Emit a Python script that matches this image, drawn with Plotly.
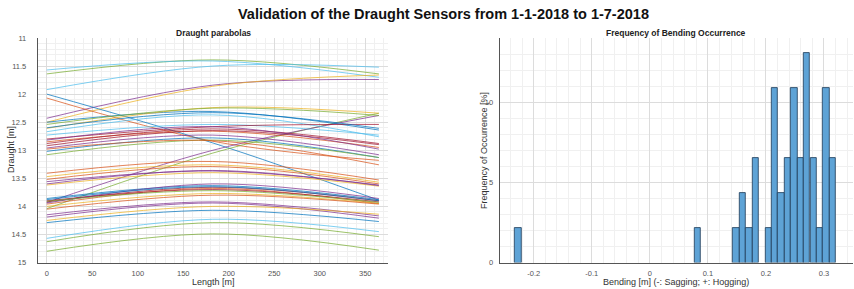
import plotly.graph_objects as go

# ---------------- data ----------------
length_stations = [0, 182.5, 365]  # aft, midship, fwd [m]

draught_aft = [11.64, 11.57, 11.92, 12.43, 12.50, 12.00, 12.07, 14.04, 13.93,
               12.50, 12.61, 12.54, 12.73, 12.67, 12.80, 12.60, 12.85,
               12.88, 12.92, 12.96, 13.02, 13.08, 12.82, 12.98,
               13.41, 13.47, 13.56, 13.62, 13.52, 13.60,
               13.86, 13.92, 13.96, 13.90, 14.00, 14.05, 13.94, 13.88, 13.91,
               14.15, 14.19, 14.29, 14.57, 14.63, 14.80, 14.25]
draught_mid = [11.39, 11.41, 11.50, 11.84, 11.86, 12.87, 12.84, 13.05, 13.00,
               12.31, 12.24, 12.25, 12.54, 12.37, 12.58, 12.33, 12.66,
               12.62, 12.65, 12.73, 12.78, 12.82, 12.58, 12.83,
               13.20, 13.26, 13.37, 13.40, 13.29, 13.36,
               13.63, 13.66, 13.68, 13.70, 13.77, 13.80, 13.60, 13.65, 13.72,
               13.92, 13.94, 14.07, 14.23, 14.29, 14.49, 14.00]
draught_fwd = [11.64, 11.70, 11.52, 11.74, 11.66, 13.89, 13.18, 12.34, 12.38,
               12.64, 12.34, 12.38, 12.73, 12.76, 12.54, 12.61, 12.95,
               12.88, 12.90, 13.08, 13.13, 13.13, 12.98, 13.26,
               13.53, 13.57, 13.62, 13.64, 13.60, 13.63,
               13.88, 13.90, 13.95, 13.92, 13.95, 13.96, 13.86, 13.90, 13.93,
               14.17, 14.21, 14.27, 14.45, 14.54, 14.78, 14.14]

bending_bin_centers = [-0.2270, 0.0827, 0.1491, 0.1601, 0.1712, 0.1823,
                       0.2044, 0.2154, 0.2265, 0.2376, 0.2486, 0.2597,
                       0.2707, 0.2818, 0.2929, 0.3039, 0.3150]
occurrence_pct = [2.17, 2.17, 2.17, 4.35, 2.17, 6.52,
                  2.17, 10.87, 4.35, 6.52, 10.87, 6.52,
                  13.04, 6.52, 2.17, 10.87, 6.52]

# ---------------- styles ----------------
matlab = {"B": "#0072BD", "O": "#D95319", "Y": "#EDB120", "P": "#7E2F8E",
          "G": "#77AC30", "C": "#4DBEEE", "R": "#A2142F"}
line_color_keys = ["G", "C", "C", "P", "Y", "B", "O", "G", "P",
                   "B", "Y", "G", "C", "C", "R", "B", "O",
                   "R", "R", "P", "B", "G", "P", "O",
                   "O", "Y", "P", "Y", "O", "P",
                   "B", "R", "O", "R", "Y", "O", "P", "B", "G",
                   "P", "P", "B", "C", "G", "G", "Y"]

FONT = "Liberation Sans, Arial, Helvetica, sans-serif"
W, H = 854, 289

fig = go.Figure()

for i in range(len(draught_aft)):
    fig.add_trace(go.Scatter(
        x=length_stations,
        y=[draught_aft[i], draught_mid[i], draught_fwd[i]],
        mode="lines",
        line=dict(color=matlab[line_color_keys[i]], width=0.8, shape="spline"),
        opacity=0.9,
        xaxis="x", yaxis="y", showlegend=False, hoverinfo="skip"))

fig.add_trace(go.Bar(
    x=bending_bin_centers, y=occurrence_pct, width=0.01106,
    marker=dict(color="#5EA3D6", line=dict(color="#1d3a55", width=0.8)),
    xaxis="x2", yaxis="y2", showlegend=False))

def px_x(p):
    return p / W

def px_y(p):
    return 1 - p / H

axis_common = dict(
    showline=True, linecolor="#555555", linewidth=1, mirror=False,
    ticks="", zeroline=False, automargin=False,
    showgrid=True, gridcolor="#dcdcdc", gridwidth=1,
    tickfont=dict(family=FONT, size=7.5, color="#555555"),
)

ydom = [px_y(262.5), px_y(38)]

def ann(text, x, y, size, color, angle=0):
    return dict(text=text, x=px_x(x), y=px_y(y), xref="paper", yref="paper",
                xanchor="center", yanchor="middle", textangle=angle,
                showarrow=False, font=dict(family=FONT, size=size, color=color))

fig.update_layout(
    width=W, height=H,
    margin=dict(l=0, r=0, t=0, b=0),
    paper_bgcolor="white", plot_bgcolor="white",
    bargap=0,
    xaxis=dict(domain=[px_x(37.7), px_x(388)], range=[-10, 375],
               tickvals=[0, 50, 100, 150, 200, 250, 300, 350],
               minor=dict(dtick=10, tick0=0, showgrid=True, gridcolor="#f0f0f0"),
               ticklabelstandoff=3,
               anchor="y", **axis_common),
    yaxis=dict(domain=ydom, range=[15, 11],
               tickvals=[11, 11.5, 12, 12.5, 13, 13.5, 14, 14.5, 15],
               ticktext=["11", "11.5", "12", "12.5", "13", "13.5", "14", "14.5", "15"],
               minor=dict(dtick=0.1, tick0=11, showgrid=True, gridcolor="#f0f0f0"),
               ticklabelstandoff=9,
               anchor="x", **axis_common),
    xaxis2=dict(domain=[px_x(499.7), px_x(853)], range=[-0.2586, 0.35],
                tickvals=[-0.2, -0.1, 0, 0.1, 0.2, 0.3],
                ticktext=["-0.2", "-0.1", "0", "0.1", "0.2", "0.3"],
                minor=dict(dtick=0.02, tick0=0, showgrid=True, gridcolor="#f0f0f0"),
                ticklabelstandoff=3,
                anchor="y2", **axis_common),
    yaxis2=dict(domain=ydom, range=[0, 14],
                tickvals=[0, 5, 10],
                minor=dict(dtick=1, tick0=0, showgrid=True, gridcolor="#f0f0f0"),
                ticklabelstandoff=4,
                anchor="x2", **axis_common),
    annotations=[
        ann("<b>Validation of the Draught Sensors from 1-1-2018 to 1-7-2018</b>",
            443, 14, 14.5, "#111111"),
        ann("<b>Draught parabolas</b>", 213, 32.5, 8.5, "#222222"),
        ann("<b>Frequency of Bending Occurrence</b>", 676, 32.5, 8.5, "#222222"),
        ann("Length [m]", 213.5, 282, 9, "#333333"),
        ann("Bending [m] (-: Sagging; +: Hogging)", 676, 282, 9, "#333333"),
        ann("Draught [m]", 11, 150, 9, "#333333", -90),
        ann("Frequency of Occurrence [%]", 484, 150, 9, "#333333", -90),
    ],
)

fig.write_html("out.html",
               config={"displayModeBar": False},
               post_script="document.body.style.margin='0';document.body.style.overflow='hidden';")
